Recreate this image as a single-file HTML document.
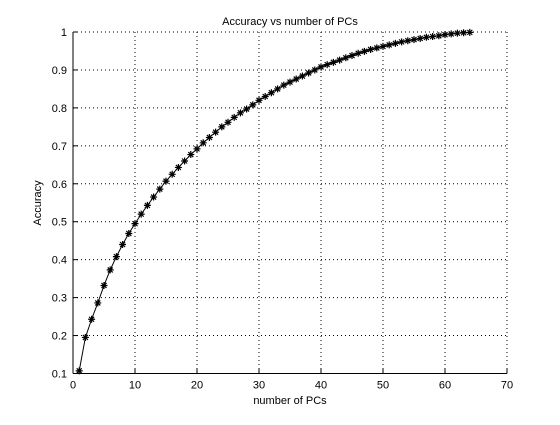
<!DOCTYPE html>
<html><head><meta charset="utf-8"><style>
body{margin:0;background:#fff;}
svg text{font-family:"Liberation Sans",sans-serif;font-size:11px;fill:#000;}
</style></head><body>
<svg width="560" height="420" viewBox="0 0 560 420">
<rect width="560" height="420" fill="#fff"/>
<g id="grid"></g>
<g id="axes"></g>
<g id="series"></g>
<text x="290" y="25" text-anchor="middle">Accuracy vs number of PCs</text>
<text x="290" y="404" text-anchor="middle">number of PCs</text>
<text x="41" y="203" text-anchor="middle" transform="rotate(-90 41 203)">Accuracy</text>
</svg>
<script>
const xTicks=[0,10,20,30,40,50,60,70];
const yTicks=[0.1,0.2,0.3,0.4,0.5,0.6,0.7,0.8,0.9,1];
const yTickLabels=["0.1","0.2","0.3","0.4","0.5","0.6","0.7","0.8","0.9","1"];
const accuracy=[0.107,0.195,0.243,0.286,0.332,0.373,0.408,0.440,0.469,0.495,0.52,0.543,0.565,0.586,0.607,0.625,0.643,0.66,0.677,0.692,0.708,0.722,0.736,0.75,0.762,0.775,0.787,0.797,0.808,0.82,0.83,0.84,0.85,0.86,0.868,0.876,0.884,0.892,0.9,0.908,0.914,0.92,0.926,0.932,0.938,0.944,0.949,0.954,0.958,0.962,0.966,0.97,0.974,0.977,0.98,0.983,0.986,0.988,0.99,0.993,0.995,0.997,0.998,0.999];
const L=73,R=507,T=32,B=373.5;
const sx=v=>L+(v-0)/(70-0)*(R-L);
const sy=v=>B-(v-0.1)/(1-0.1)*(B-T);
const NS="http://www.w3.org/2000/svg";
function mk(tag,attrs,parent){const e=document.createElementNS(NS,tag);for(const k in attrs)e.setAttribute(k,attrs[k]);parent.appendChild(e);return e;}
const grid=document.getElementById('grid'),axes=document.getElementById('axes'),ser=document.getElementById('series');
xTicks.forEach(t=>{
  const g=mk('line',{x1:sx(t),x2:sx(t),y1:T,y2:B,stroke:'#000','stroke-width':1,'stroke-dasharray':'1,3'},grid);
  
  
  mk('line',{x1:sx(t),x2:sx(t),y1:B,y2:B-5,stroke:'#000'},axes);
  const tx=mk('text',{x:sx(t),y:B+15,'text-anchor':'middle'},axes);tx.textContent=t;
  
  
});
yTicks.forEach((t,i)=>{
  const g=mk('line',{x1:L,x2:R,y1:sy(t),y2:sy(t),stroke:'#000','stroke-width':1,'stroke-dasharray':'1,3'},grid);
  
  
  mk('line',{x1:L,x2:L+5,y1:sy(t),y2:sy(t),stroke:'#000'},axes);
  const tx=mk('text',{x:L-6,y:sy(t)+4,'text-anchor':'end'},axes);tx.textContent=yTickLabels[i];
  
  
});
mk('line',{x1:L,x2:L,y1:T,y2:B,stroke:'#000'},axes);
mk('line',{x1:L,x2:R,y1:B,y2:B,stroke:'#000'},axes);
const pts=accuracy.map((v,i)=>sx(i+1).toFixed(2)+','+sy(v).toFixed(2)).join(' ');
const pl=mk('polyline',{points:pts,fill:'none',stroke:'#000','stroke-width':1},ser);


accuracy.forEach((v,i)=>{
  const x=sx(i+1),y=sy(v),r=3.5;
  const m=mk('path',{d:`M${x-r},${y}H${x+r}M${x},${y-r}V${y+r}M${x-2.5},${y-2.5}L${x+2.5},${y+2.5}M${x-2.5},${y+2.5}L${x+2.5},${y-2.5}`,stroke:'#000','stroke-width':1.2},ser);
  
  
});
</script>
</body></html>
